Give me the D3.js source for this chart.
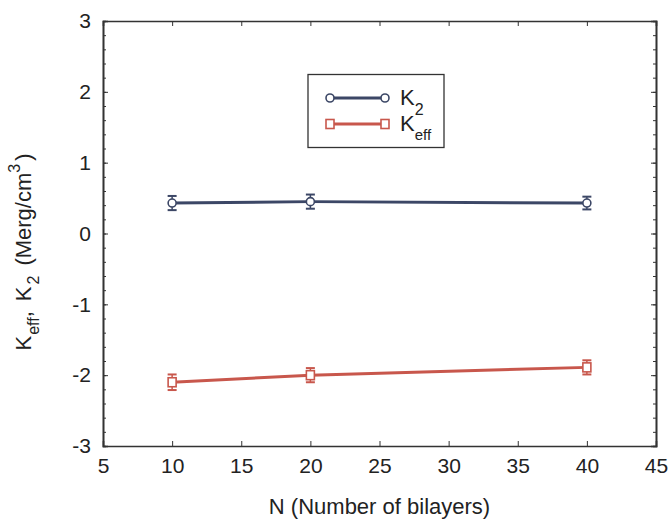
<!DOCTYPE html>
<html>
<head>
<meta charset="utf-8">
<script src="https://cdn.jsdelivr.net/npm/d3@7"></script>
<style>
  html, body { margin: 0; padding: 0; background: #fff; }
  svg { display: block; font-family: "Liberation Sans", Arial, Helvetica, sans-serif; }
</style>
</head>
<body>
<svg id="chart" width="670" height="525"></svg>
<script>
// Anisotropy constants vs. number of bilayers
const bilayers = [10, 20, 40];
const k2Values = [0.43, 0.45, 0.43];
const k2Errors = [0.10, 0.10, 0.09];
const keffValues = [-2.10, -2.00, -1.89];
const keffErrors = [0.11, 0.10, 0.10];
const xTicks = [5, 10, 15, 20, 25, 30, 35, 40, 45];
const yTicks = [-3, -2, -1, 0, 1, 2, 3];

const blue = "#3c4766";
const red = "#c8574c";
const frame = "#333";

const svg = d3.select("#chart");
const margin = { left: 103, right: 14, top: 21, bottom: 79 };
const W = 670, H = 525;

const x = d3.scaleLinear().domain([5, 45]).range([margin.left, W - margin.right]);
const y = d3.scaleLinear().domain([-3, 3]).range([H - margin.bottom, margin.top]);

const g = svg.append("g");

// Axes: major ticks pointing inward, minor ticks on y every 0.2
const plain = d => String(d);
const minorY = d3.range(-3, 3.0001, 0.2);
const bottomAxis = d3.axisBottom(x).tickValues(xTicks).tickSize(-5).tickPadding(12).tickFormat(plain);
const topAxis = d3.axisTop(x).tickValues(xTicks).tickSize(-5).tickFormat("");
const leftAxis = d3.axisLeft(y).tickValues(yTicks).tickSize(-5).tickPadding(12).tickFormat(plain);
const rightAxis = d3.axisRight(y).tickValues(yTicks).tickSize(-5).tickFormat("");
const leftMinor = d3.axisLeft(y).tickValues(minorY).tickSize(-3).tickFormat("");
const rightMinor = d3.axisRight(y).tickValues(minorY).tickSize(-3).tickFormat("");

function styleAxis(sel) {
  sel.selectAll(".domain").attr("stroke", frame).attr("stroke-width", 1.6);
  sel.selectAll(".tick line").attr("stroke", frame).attr("stroke-width", 1);
  sel.selectAll(".tick text").attr("fill", "#222").style("font-size", "21px");
}

g.append("g").attr("transform", `translate(0,${y(-3)})`).call(bottomAxis).call(styleAxis);
g.append("g").attr("transform", `translate(0,${y(3)})`).call(topAxis).call(styleAxis);
g.append("g").attr("transform", `translate(${x(5)},0)`).call(leftAxis).call(styleAxis);
g.append("g").attr("transform", `translate(${x(45)},0)`).call(rightAxis).call(styleAxis);
g.append("g").attr("transform", `translate(${x(5)},0)`).call(leftMinor).call(styleAxis);
g.append("g").attr("transform", `translate(${x(45)},0)`).call(rightMinor).call(styleAxis);

// Series
const series = [
  { name: "K2", values: k2Values, errors: k2Errors, color: blue, marker: "circle" },
  { name: "Keff", values: keffValues, errors: keffErrors, color: red, marker: "square" }
];

const line = d3.line().x(d => x(d.n)).y(d => y(d.v));

series.forEach(s => {
  const pts = bilayers.map((n, i) => ({ n, v: s.values[i], e: s.errors[i] }));
  const sg = g.append("g");
  sg.append("path").datum(pts).attr("d", line)
    .attr("fill", "none").attr("stroke", s.color).attr("stroke-width", 3);

  const eb = sg.selectAll(".eb").data(pts).enter().append("g");
  eb.append("line")
    .attr("x1", d => x(d.n)).attr("x2", d => x(d.n))
    .attr("y1", d => y(d.v + d.e)).attr("y2", d => y(d.v - d.e))
    .attr("stroke", s.color).attr("stroke-width", 1.5);
  [1, -1].forEach(sign => {
    eb.append("line")
      .attr("x1", d => x(d.n) - 4.5).attr("x2", d => x(d.n) + 4.5)
      .attr("y1", d => y(d.v + sign * d.e)).attr("y2", d => y(d.v + sign * d.e))
      .attr("stroke", s.color).attr("stroke-width", 2);
  });

  if (s.marker === "circle") {
    sg.selectAll(".mk").data(pts).enter().append("circle")
      .attr("cx", d => x(d.n)).attr("cy", d => y(d.v)).attr("r", 4)
      .attr("fill", "#fff").attr("stroke", s.color).attr("stroke-width", 1.6);
  } else {
    sg.selectAll(".mk").data(pts).enter().append("rect")
      .attr("x", d => x(d.n) - 4).attr("y", d => y(d.v) - 4.5)
      .attr("width", 8).attr("height", 9)
      .attr("fill", "#fff").attr("stroke", s.color).attr("stroke-width", 1.6);
  }
});

// Legend
const lg = svg.append("g");
lg.append("rect").attr("x", 308).attr("y", 74.5).attr("width", 136).attr("height", 73)
  .attr("fill", "#fff").attr("stroke", frame).attr("stroke-width", 1.3);

function legendEntry(yy, color, marker) {
  lg.append("line").attr("x1", 330).attr("x2", 385).attr("y1", yy).attr("y2", yy)
    .attr("stroke", color).attr("stroke-width", 3);
  [330, 385].forEach(cx => {
    if (marker === "circle") {
      lg.append("circle").attr("cx", cx).attr("cy", yy).attr("r", 4)
        .attr("fill", "#fff").attr("stroke", color).attr("stroke-width", 1.6);
    } else {
      lg.append("rect").attr("x", cx - 4).attr("y", yy - 4.5).attr("width", 8).attr("height", 9)
        .attr("fill", "#fff").attr("stroke", color).attr("stroke-width", 1.6);
    }
  });
}
legendEntry(98, blue, "circle");
legendEntry(124, red, "square");

const t1 = lg.append("text").attr("x", 400).attr("y", 105).attr("fill", "#222").style("font-size", "22px");
t1.append("tspan").text("K");
t1.append("tspan").attr("dy", 10).style("font-size", "16px").text("2");
const t2 = lg.append("text").attr("x", 400).attr("y", 131).attr("fill", "#222").style("font-size", "22px");
t2.append("tspan").text("K");
t2.append("tspan").attr("dy", 9).style("font-size", "15px").text("eff");

// Axis titles
svg.append("text").attr("x", (x(5) + x(45)) / 2).attr("y", 514).attr("text-anchor", "middle")
  .attr("fill", "#222").style("font-size", "22px").text("N (Number of bilayers)");

const yl = svg.append("text").attr("transform", `translate(31,${252}) rotate(-90)`)
  .attr("text-anchor", "middle").attr("fill", "#222").style("font-size", "22px");
yl.append("tspan").text("K");
yl.append("tspan").attr("dx", 1).attr("dy", 8).style("font-size", "16px").text("eff");
yl.append("tspan").attr("dy", -8).text(",");
yl.append("tspan").attr("dx", 10).text("K");
yl.append("tspan").attr("dx", 2).attr("dy", 8).style("font-size", "16px").text("2");
yl.append("tspan").attr("dx", 10).attr("dy", -8).text("(Merg/cm");
yl.append("tspan").attr("dy", -11).style("font-size", "16px").text("3");
yl.append("tspan").attr("dx", 3).attr("dy", 11).text(")");
</script>
</body>
</html>
